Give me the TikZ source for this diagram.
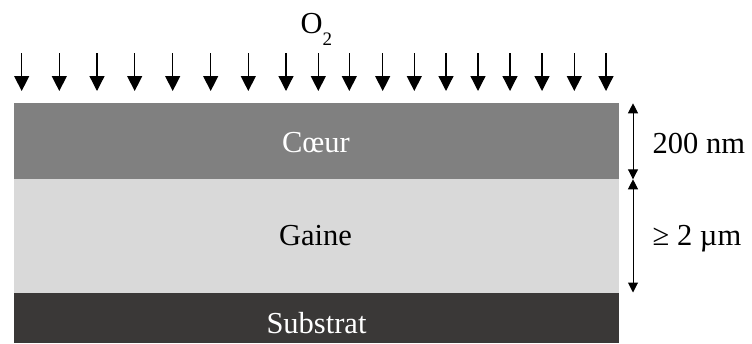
\documentclass[tikz,border=0pt]{standalone}
\usepackage{fontspec}
\setmainfont{Liberation Serif}
\usetikzlibrary{arrows.meta}
\definecolor{coeurgray}{RGB}{128,128,128}
\definecolor{gainegray}{RGB}{217,217,217}
\definecolor{substratgray}{RGB}{58,56,55}
\tikzset{
  layer/.style={draw=none, inner sep=0pt, outer sep=0pt},
  lbl/.style={inner sep=0pt, font=\fontsize{30.5}{36}\selectfont},
  o2arrow/.style={line width=1.3pt, -{Triangle[length=15pt,width=15pt]}},
  dimarrow/.style={line width=1pt, {Triangle[length=10pt,width=10pt]}-{Triangle[length=10pt,width=10pt]}}
}
\begin{document}
\begin{tikzpicture}[x=1pt,y=-1pt]
\useasboundingbox (0,0) rectangle (752,343);
% layers
\fill[coeurgray] (13.5,103.3) rectangle (618.7,179.3);
\fill[gainegray] (13.5,179.3) rectangle (618.7,292.7);
\fill[substratgray] (13.5,292.7) rectangle (618.7,343);
% labels
\node[lbl, text=white, anchor=base] (coeur) at (316,152.7) {Cœur};
\node[lbl, anchor=base] (gaine) at (315.5,245.7) {Gaine};
\node[lbl, text=white, anchor=base] (substrat) at (316.5,333) {Substrat};
\node[lbl, anchor=base west] (o2) at (300.5,33) {O\raisebox{-12pt}{\fontsize{19}{20}\selectfont 2}};
% O2 arrows
\foreach \x [count=\i] in {21.7,59.3,97,134.7,172.7,210.7,248.3,286,318.3,349.3,382.7,414.3,446,478,510,542,574.3,606}{
  \coordinate (a\i) at (\x,53);
  \coordinate (b\i) at (\x,91);
  \draw[o2arrow] (a\i) -- (b\i);
}
% dimension arrows
\coordinate (d0) at (633,103.3);
\coordinate (d1) at (633,179.3);
\coordinate (d2) at (633,292.5);
\draw[dimarrow] (d0) -- (d1);
\draw[dimarrow] (d1) -- (d2);
\node[lbl, anchor=base west] (t200) at (652.5,153) {200 nm};
\node[lbl, anchor=base west] (t2um) at (652.5,245) {≥ 2 µm};
\end{tikzpicture}
\end{document}
